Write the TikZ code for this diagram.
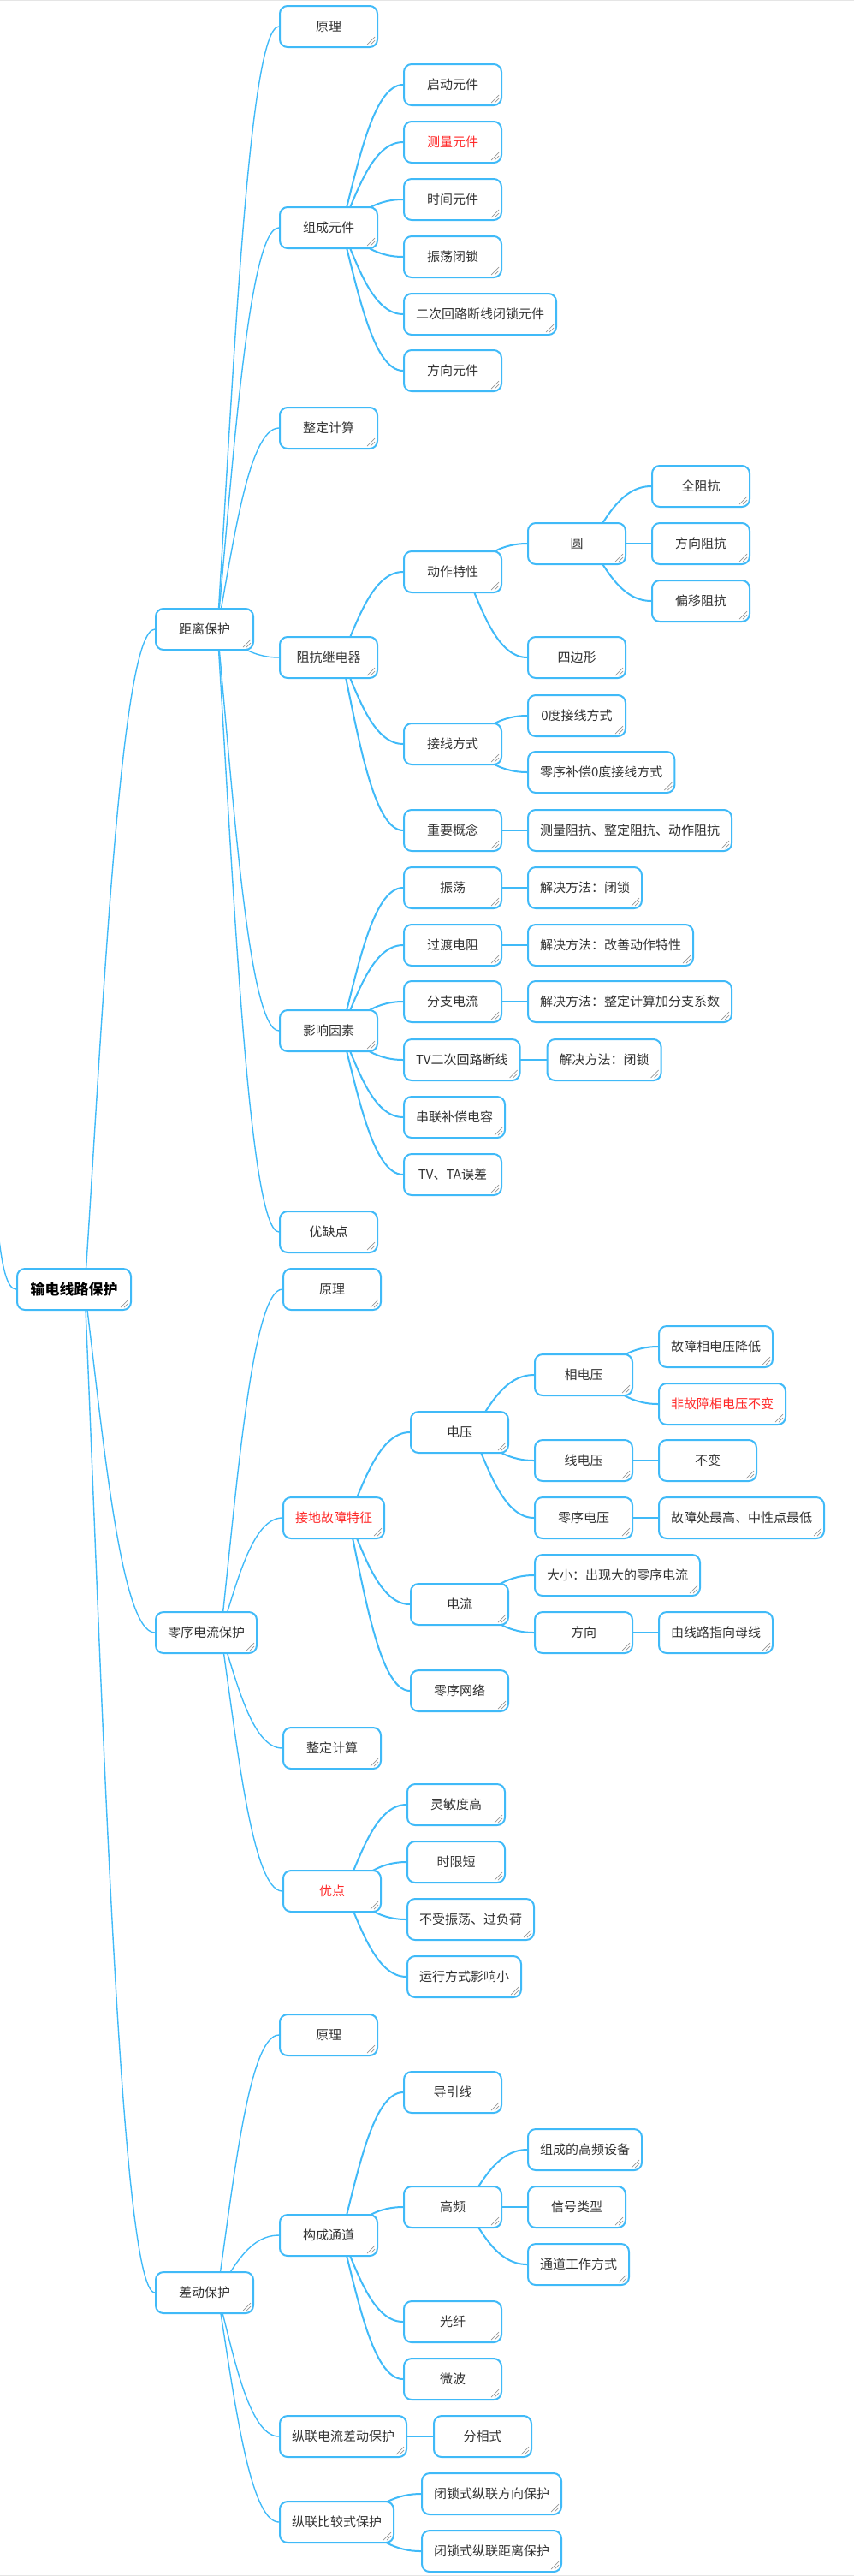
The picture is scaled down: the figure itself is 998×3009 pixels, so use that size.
\documentclass[tikz,border=0pt]{standalone}
\usepackage{fontspec}
\setmainfont{Noto Sans CJK SC}
\usetikzlibrary{calc}
\definecolor{lb}{RGB}{64,186,248}
\definecolor{tx}{RGB}{51,51,51}
\definecolor{rd}{RGB}{255,40,40}
\definecolor{mk}{RGB}{150,150,150}
\pgfdeclarelayer{bg}
\pgfsetlayers{bg,main}
\tikzset{
 box/.style={draw=lb, line width=2pt, rounded corners=9pt, fill=white,
  minimum width=114pt, minimum height=48pt, inner xsep=14pt, inner ysep=0pt,
  anchor=west, font=\fontsize{15}{18}\selectfont, text=tx,
  path picture={
   \draw[mk, line width=0.7pt, sharp corners]
     ([shift={(-12,-3)}]path picture bounding box.south east) --
     ([shift={(-3,-12)}]path picture bounding box.south east);
   \draw[mk, line width=0.7pt, sharp corners]
     ([shift={(-8,-3)}]path picture bounding box.south east) --
     ([shift={(-3,-8)}]path picture bounding box.south east);}},
 hot/.style={text=rd},
 rootbox/.style={box, minimum width=133pt, inner xsep=15pt,
  font=\fontsize{17}{20}\selectfont\bfseries, text=black},
 tl/.style={draw=lb, line width=1.4pt},
 kl/.style={draw=lb, line width=2pt},
}
% #1 style, #2 start offset, #3 parent, #4 child
\newcommand\cn[4]{\draw[#1] let \p1=(#3.east), \p2=(#4.west), \p3=(#3.center) in
 ({\x1-#2},\y3) .. controls ({\x1-#2+0.25*(\x2-\x1+#2)},{\y3+0.4*(\y2-\y3)})
 and ({\x1-#2+0.5*(\x2-\x1+#2)},\y2) .. (\p2);}
\begin{document}
\begin{tikzpicture}[x=1pt,y=-1pt]
\useasboundingbox (0,0) rectangle (998,3009);
\draw[gray!20, line width=1pt] (0,0.5) -- (998,0.5);
\draw[gray!20, line width=1pt] (0,3008.5) -- (998,3008.5);

% root and level 1
\node[rootbox] (R) at (19,1506) {输电线路保护};
\node[box] (A) at (181,735) {距离保护};
\node[box] (B) at (181,1907) {零序电流保护};
\node[box] (C) at (181,2678) {差动保护};

% distance protection
\node[box] (A1) at (326,31) {原理};
\node[box] (A2) at (326,266) {组成元件};
\node[box] (A3) at (326,500) {整定计算};
\node[box] (A4) at (326,768) {阻抗继电器};
\node[box] (A5) at (326,1204) {影响因素};
\node[box] (A6) at (326,1439) {优缺点};

\node[box] (A21) at (471,99) {启动元件};
\node[box,hot] (A22) at (471,166) {测量元件};
\node[box] (A23) at (471,233) {时间元件};
\node[box] (A24) at (471,300) {振荡闭锁};
\node[box] (A25) at (471,367) {二次回路断线闭锁元件};
\node[box] (A26) at (471,433) {方向元件};

\node[box] (A41) at (471,668) {动作特性};
\node[box] (A42) at (471,869) {接线方式};
\node[box] (A43) at (471,970) {重要概念};
\node[box] (A411) at (616,635) {圆};
\node[box] (A412) at (616,768) {四边形};
\node[box] (A4111) at (761,568) {全阻抗};
\node[box] (A4112) at (761,635) {方向阻抗};
\node[box] (A4113) at (761,702) {偏移阻抗};
\node[box] (A421) at (616,836) {0度接线方式};
\node[box] (A422) at (616,902) {零序补偿0度接线方式};
\node[box] (A431) at (616,970) {测量阻抗、整定阻抗、动作阻抗};

\node[box] (A51) at (471,1037) {振荡};
\node[box] (A52) at (471,1104) {过渡电阻};
\node[box] (A53) at (471,1170) {分支电流};
\node[box] (A54) at (471,1238) {TV二次回路断线};
\node[box] (A55) at (471,1305) {串联补偿电容};
\node[box] (A56) at (471,1372) {TV、TA误差};
\node[box] (A511) at (616,1037) {解决方法：闭锁};
\node[box] (A521) at (616,1104) {解决方法：改善动作特性};
\node[box] (A531) at (616,1170) {解决方法：整定计算加分支系数};
\node[box,xshift=30pt] (A541) at (A54.east) {解决方法：闭锁};

% zero sequence protection
\node[box] (B1) at (330,1506) {原理};
\node[box,hot] (B2) at (330,1773) {接地故障特征};
\node[box] (B3) at (330,2042) {整定计算};
\node[box,hot] (B4) at (330,2209) {优点};
\node[box] (B21) at (479,1673) {电压};
\node[box] (B22) at (479,1874) {电流};
\node[box] (B23) at (479,1975) {零序网络};
\node[box] (B211) at (624,1606) {相电压};
\node[box] (B212) at (624,1706) {线电压};
\node[box] (B213) at (624,1773) {零序电压};
\node[box] (B2111) at (769,1573) {故障相电压降低};
\node[box,hot] (B2112) at (769,1640) {非故障相电压不变};
\node[box] (B2121) at (769,1706) {不变};
\node[box] (B2131) at (769,1773) {故障处最高、中性点最低};
\node[box] (B221) at (624,1840) {大小：出现大的零序电流};
\node[box] (B222) at (624,1907) {方向};
\node[box] (B2221) at (769,1907) {由线路指向母线};
\node[box] (B41) at (475,2108) {灵敏度高};
\node[box] (B42) at (475,2175) {时限短};
\node[box] (B43) at (475,2242) {不受振荡、过负荷};
\node[box] (B44) at (475,2309) {运行方式影响小};

% differential protection
\node[box] (C1) at (326,2377) {原理};
\node[box] (C2) at (326,2611) {构成通道};
\node[box] (C3) at (326,2846) {纵联电流差动保护};
\node[box] (C4) at (326,2946) {纵联比较式保护};
\node[box] (C21) at (471,2444) {导引线};
\node[box] (C22) at (471,2578) {高频};
\node[box] (C23) at (471,2712) {光纤};
\node[box] (C24) at (471,2779) {微波};
\node[box] (C221) at (616,2511) {组成的高频设备};
\node[box] (C222) at (616,2578) {信号类型};
\node[box] (C223) at (616,2645) {通道工作方式};
\node[box,xshift=30pt] (C31) at (C3.east) {分相式};
\node[box,xshift=31pt] (C41) at (C4.east |- 0,2913) {闭锁式纵联方向保护};
\node[box,xshift=31pt] (C42) at (C4.east |- 0,2980) {闭锁式纵联距离保护};

\coordinate (rin) at (-3,1430);

\begin{pgfonlayer}{bg}
\draw[tl] (rin) .. controls (2,1480) and (8,1506) .. (R.west);
\cn{tl}{55pt}{R}{A} \cn{tl}{55pt}{R}{B} \cn{tl}{55pt}{R}{C}
\foreach \c in {A1,A2,A3,A4,A5,A6}{\cn{tl}{43pt}{A}{\c}}
\foreach \c in {A21,A22,A23,A24,A25,A26}{\cn{kl}{43pt}{A2}{\c}}
\foreach \c in {A41,A42,A43}{\cn{kl}{43pt}{A4}{\c}}
\foreach \c in {A411,A412}{\cn{kl}{43pt}{A41}{\c}}
\foreach \c in {A4111,A4112,A4113}{\cn{kl}{43pt}{A411}{\c}}
\foreach \c in {A421,A422}{\cn{kl}{43pt}{A42}{\c}}
\cn{kl}{43pt}{A43}{A431}
\foreach \c in {A51,A52,A53,A54,A55,A56}{\cn{kl}{43pt}{A5}{\c}}
\cn{kl}{43pt}{A51}{A511} \cn{kl}{43pt}{A52}{A521}
\cn{kl}{43pt}{A53}{A531} \cn{kl}{43pt}{A54}{A541}
\foreach \c in {B1,B2,B3,B4}{\cn{tl}{43pt}{B}{\c}}
\foreach \c in {B21,B22,B23}{\cn{kl}{43pt}{B2}{\c}}
\foreach \c in {B211,B212,B213}{\cn{kl}{43pt}{B21}{\c}}
\foreach \c in {B2111,B2112}{\cn{kl}{43pt}{B211}{\c}}
\cn{kl}{43pt}{B212}{B2121} \cn{kl}{43pt}{B213}{B2131}
\foreach \c in {B221,B222}{\cn{kl}{43pt}{B22}{\c}}
\cn{kl}{43pt}{B222}{B2221}
\foreach \c in {B41,B42,B43,B44}{\cn{kl}{43pt}{B4}{\c}}
\foreach \c in {C1,C2,C3,C4}{\cn{tl}{43pt}{C}{\c}}
\foreach \c in {C21,C22,C23,C24}{\cn{kl}{43pt}{C2}{\c}}
\foreach \c in {C221,C222,C223}{\cn{kl}{43pt}{C22}{\c}}
\cn{kl}{43pt}{C3}{C31}
\foreach \c in {C41,C42}{\cn{kl}{43pt}{C4}{\c}}
\end{pgfonlayer}
\end{tikzpicture}
\end{document}
